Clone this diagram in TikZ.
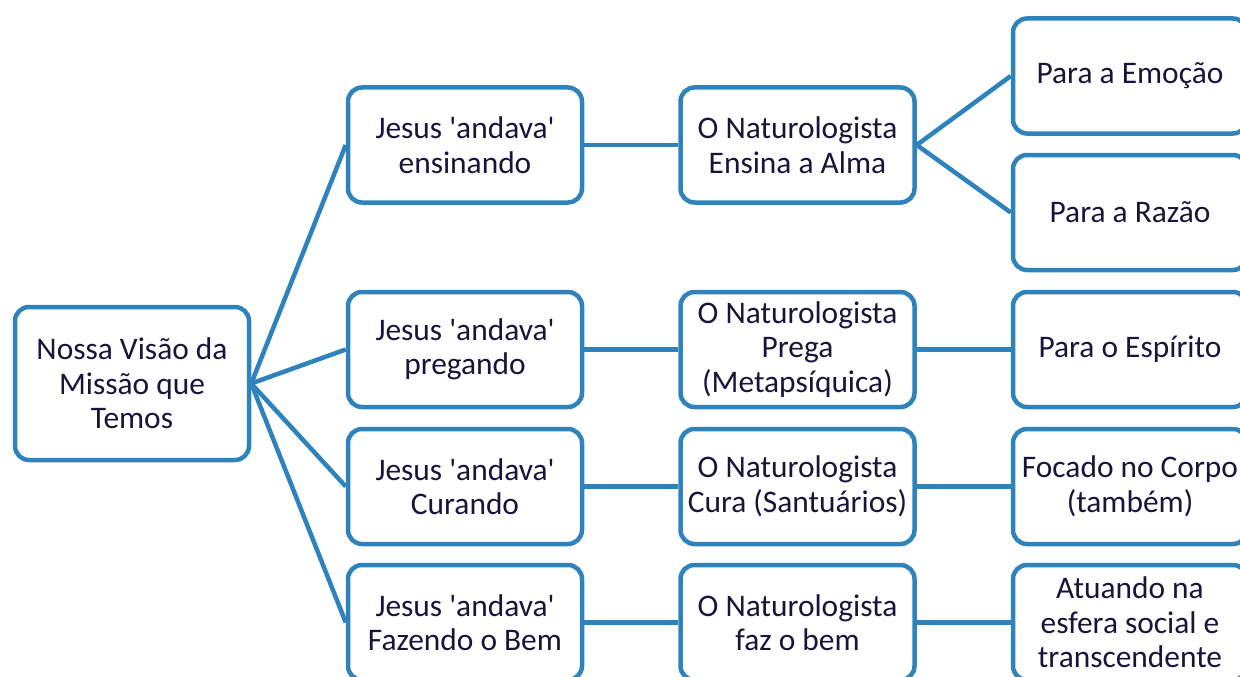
\documentclass[tikz,border=0pt]{standalone}
\usepackage{fontspec}
\setmainfont{Carlito}
\definecolor{boxblue}{HTML}{2F83BD}
\definecolor{txt}{HTML}{16163A}
\newcommand{\q}{\textquotesingle}
\begin{document}
\begin{tikzpicture}[x=1pt,y=-1pt,
  box/.style={draw=boxblue, line width=4.5pt, rounded corners=14pt, fill=white,
    minimum width=234pt, minimum height=115pt, inner sep=0pt, align=center,
    text=txt, font=\fontsize{31.4}{34.5}\selectfont},
  conn/.style={draw=boxblue, line width=4.5pt}]
\useasboundingbox (0,0) rectangle (1240,677);
\clip (0,0) rectangle (1240,677);
\node[box, minimum height=153pt] (root) at (132,383.5) {Nossa Visão da\\Missão que\\Temos};
\node[box] (j1) at (465,145) {Jesus \q andava\q\\ensinando};
\node[box] (j2) at (465,349.5) {Jesus \q andava\q\\pregando};
\node[box] (j3) at (465,486.5) {Jesus \q andava\q\\Curando};
\node[box] (j4) at (465,622.5) {Jesus \q andava\q\\Fazendo o Bem};
\node[box] (n1) at (797.5,145) {O Naturologista\\Ensina a Alma};
\node[box] (n2) at (797.5,349.5) {O Naturologista\\Prega\\(Metapsíquica)};
\node[box] (n3) at (797.5,486.5) {O Naturologista\\Cura (Santuários)};
\node[box] (n4) at (797.5,622.5) {O Naturologista\\faz o bem};
\node[box] (r1a) at (1130,76) {Para a Emoção};
\node[box] (r1b) at (1130,212.5) {Para a Razão};
\node[box] (r2) at (1130,349.5) {Para o Espírito};
\node[box] (r3) at (1130,486.5) {Focado no Corpo\\(também)};
\node[box] (r4) at (1130,622.5) {Atuando na\\esfera social e\\transcendente};
\foreach \j in {j1,j2,j3,j4} \draw[conn] (root.east) -- (\j.west);
\draw[conn] (j1.east) -- (n1.west);
\draw[conn] (j2.east) -- (n2.west);
\draw[conn] (j3.east) -- (n3.west);
\draw[conn] (j4.east) -- (n4.west);
\draw[conn] (n1.east) -- (r1a.west);
\draw[conn] (n1.east) -- (r1b.west);
\draw[conn] (n2.east) -- (r2.west);
\draw[conn] (n3.east) -- (r3.west);
\draw[conn] (n4.east) -- (r4.west);
\end{tikzpicture}
\end{document}
